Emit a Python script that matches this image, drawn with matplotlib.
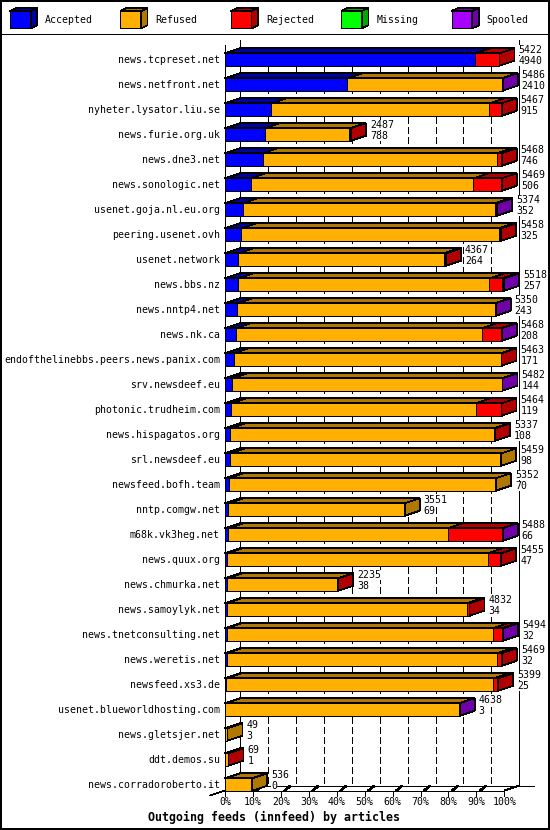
import numpy as np
import matplotlib.pyplot as plt
from matplotlib.patches import Polygon, Rectangle

hosts = ["news.tcpreset.net", "news.netfront.net", "nyheter.lysator.liu.se",
         "news.furie.org.uk", "news.dne3.net", "news.sonologic.net",
         "usenet.goja.nl.eu.org", "peering.usenet.ovh", "usenet.network",
         "news.bbs.nz", "news.nntp4.net", "news.nk.ca",
         "endofthelinebbs.peers.news.panix.com", "srv.newsdeef.eu",
         "photonic.trudheim.com", "news.hispagatos.org", "srl.newsdeef.eu",
         "newsfeed.bofh.team", "nntp.comgw.net", "m68k.vk3heg.net",
         "news.quux.org", "news.chmurka.net", "news.samoylyk.net",
         "news.tnetconsulting.net", "news.weretis.net", "newsfeed.xs3.de",
         "usenet.blueworldhosting.com", "news.gletsjer.net", "ddt.demos.su",
         "news.corradoroberto.it"]
offered = [5422, 5486, 5467, 2487, 5468, 5469, 5374, 5458, 4367, 5518,
           5350, 5468, 5463, 5482, 5464, 5337, 5459, 5352, 3551, 5488,
           5455, 2235, 4832, 5494, 5469, 5399, 4638, 49, 69, 536]
accepted = [4940, 2410, 915, 788, 746, 506, 352, 325, 264, 257,
            243, 208, 171, 144, 119, 108, 98, 70, 69, 66,
            47, 38, 34, 32, 32, 25, 3, 3, 1, 0]
refused = [0, 3061, 4307, 1669, 4622, 4400, 4987, 5093, 4053, 4965,
           5091, 4862, 5282, 5328, 4833, 5199, 5361, 5282, 3482, 4333,
           5142, 2181, 4743, 5256, 5335, 5276, 4626, 46, 50, 536]
rejected = [482, 0, 245, 30, 100, 563, 0, 40, 50, 246,
            0, 382, 10, 0, 512, 30, 0, 0, 0, 1079,
            266, 16, 55, 190, 102, 98, 0, 0, 18, 0]
missing = [0] * 30
spooled = [0, 15, 0, 0, 0, 0, 35, 0, 0, 50,
           16, 16, 0, 10, 0, 0, 0, 0, 0, 10,
           0, 0, 0, 16, 0, 0, 9, 0, 0, 0]

names = ["Accepted", "Refused", "Rejected", "Missing", "Spooled"]
fronts = ["#0000ff", "#ffb000", "#ff0000", "#00ff00", "#a800ff"]
shades = ["#0000a8", "#b07800", "#b00000", "#00a800", "#7000a8"]
series = [accepted, refused, rejected, missing, spooled]
pcts = list(range(0, 101, 10))

plt.rcParams['lines.antialiased'] = False
plt.rcParams['patch.antialiased'] = False

mono = "DejaVu Sans Mono"
fs = 7.15
W, H = 550, 830
X0, XW = 225, 279.3
Y0, YSTEP = 59.5, 25.0
DX, DY = 15, 5
BH = 12.4
LW = 0.55

M = max(offered)
fig = plt.figure(figsize=(W / 100, H / 100), dpi=100)
fig.patch.set_edgecolor('black')
fig.patch.set_linewidth(1.6)
ax = fig.add_axes([0, 0, 1, 1])
ax.set_xlim(-X0 / XW * M, (W - X0) / XW * M)
ax.set_ylim((H - Y0) / YSTEP, -Y0 / YSTEP)
ax.axis('off')

px = M / XW
dx = DX * px
dy = -DY / YSTEP
hh = BH / YSTEP / 2
def ry(p):
    return (p - Y0) / YSTEP

lk = dict(color='black', lw=LW, solid_capstyle='butt')
ftop, ffl = ry(44.5), ry(790.5)
btop, bfl = ftop + dy, ffl + dy

# back plane + floor
for p in pcts[1:-1]:
    ax.plot([p * M / 100 + dx] * 2, [btop + 0.3, bfl], ls=(0, (9, 4.5)), color='black', lw=LW, zorder=1)
ax.plot([dx, dx], [btop, bfl], zorder=1, **lk)
ax.plot([M + dx, M + dx], [btop, bfl], zorder=1, **lk)
ax.plot([dx, M + 2 * dx], [bfl, bfl], zorder=1, **lk)
ax.plot([0, M], [ffl, ffl], zorder=1, **lk)
ax.plot([M, M + dx], [ffl, bfl], zorder=1, **lk)
ax.plot([-dx, dx], [ffl - dy, bfl], zorder=1, **lk)
ax.plot([0, 0], [ftop, ffl - dy], zorder=6, **lk)
for p in pcts:
    x = p * M / 100
    ax.plot([x, x], [ffl, ffl - dy], zorder=1, **lk)
    if 0 < p < 100:
        ax.plot([x + 4 * px, x + 9 * px], [ffl, ffl + 0.85 * dy], color='black', lw=1.2, zorder=1)
    ax.text(x, ry(802), f"{p}%", ha='center', va='center', fontsize=fs, family=mono)

# bars
for i in range(len(hosts)):
    vals = [s[i] for s in series]
    top, bot = i - hh, i + hh
    left = 0
    last = None
    for k, v in enumerate(vals):
        if v <= 0:
            continue
        right = left + v
        ax.add_patch(Rectangle((left, top), v, bot - top, facecolor=fronts[k],
                               edgecolor='black', lw=LW, zorder=3))
        ax.add_patch(Polygon([(left, top), (right, top), (right + dx, top + dy), (left + dx, top + dy)],
                             closed=True, facecolor=shades[k], edgecolor='black', lw=LW, zorder=3))
        last = k
        left = right
    if last is not None:
        ax.add_patch(Polygon([(left, top), (left + dx, top + dy), (left + dx, bot + dy), (left, bot)],
                             closed=True, facecolor=shades[last], edgecolor='black', lw=LW, zorder=3))
    ax.text(-5 * px, i, hosts[i], ha='right', va='center', fontsize=fs, family=mono, zorder=5)
    tx = left + dx + 4 * px
    bb = dict(facecolor='white', edgecolor='none', pad=0)
    ax.text(tx, i - 0.38, str(offered[i]), ha='left', va='center', fontsize=fs, family=mono, bbox=bb, zorder=5)
    ax.text(tx, i + 0.06, str(accepted[i]), ha='left', va='center', fontsize=fs, family=mono, bbox=bb, zorder=5)

fig.text(274 / W, 1 - 817 / H, "Outgoing feeds (innfeed) by articles", ha='center', va='center',
         fontsize=8.4, family=mono, weight='bold')

# legend
ov = fig.add_axes([0, 0, 1, 1])
ov.set_xlim(0, W)
ov.set_ylim(H, 0)
ov.axis('off')
ov.plot([0, W], [34.5, 34.5], color='black', lw=0.7)
for k, name in enumerate(names):
    x0 = 10 + 110.4 * k
    bw, y0, y1, ldx, ldy = 20.7, 11, 28.3, 6.5, 3
    ov.add_patch(Rectangle((x0, y0), bw, y1 - y0, facecolor=fronts[k], edgecolor='black', lw=LW))
    ov.add_patch(Polygon([(x0, y0), (x0 + bw, y0), (x0 + bw + ldx, y0 - ldy), (x0 + ldx, y0 - ldy)],
                         closed=True, facecolor=shades[k], edgecolor='black', lw=LW))
    ov.add_patch(Polygon([(x0 + bw, y0), (x0 + bw + ldx, y0 - ldy), (x0 + bw + ldx, y1 - ldy), (x0 + bw, y1)],
                         closed=True, facecolor=shades[k], edgecolor='black', lw=LW))
    ov.text(x0 + 35, 20, name, ha='left', va='center', fontsize=fs, family=mono)

fig.savefig("out.png", dpi=100, facecolor='white', edgecolor='black')
